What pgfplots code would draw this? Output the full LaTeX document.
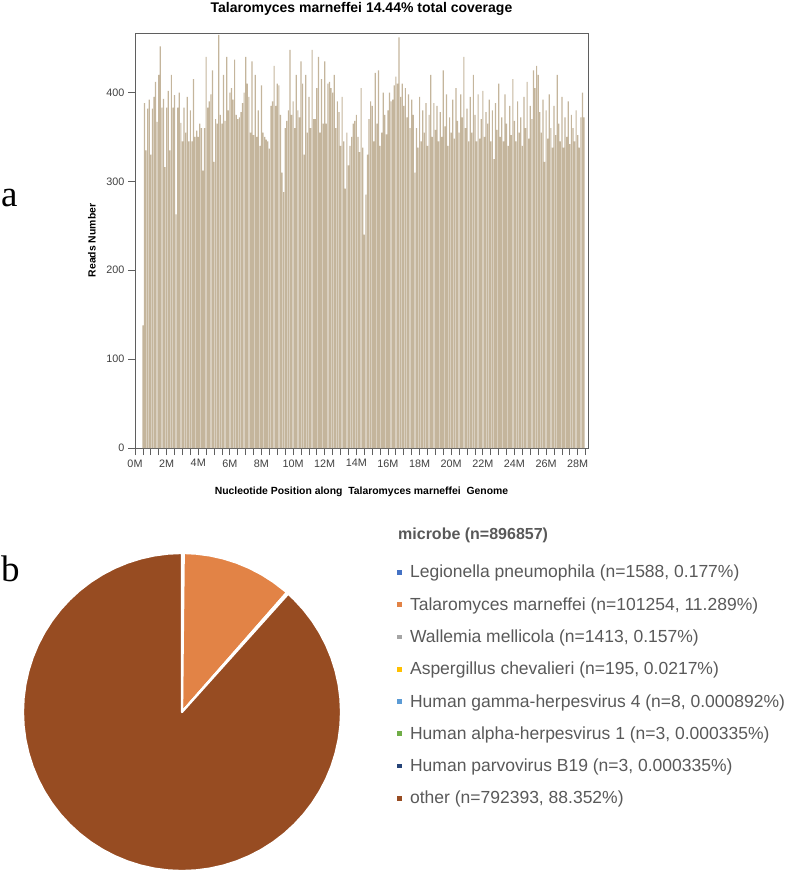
\documentclass[border=0pt]{standalone}
\usepackage{fontspec}
\setmainfont{Liberation Sans}
\newfontfamily\panelfont{Liberation Serif}
\usepackage{pgfplots}
\pgfplotsset{compat=1.18}

\definecolor{barTan}{RGB}{196,181,156}
\definecolor{axGray}{RGB}{95,95,95}
\definecolor{lgText}{RGB}{89,89,89}
\definecolor{cLeg}{RGB}{68,114,196}
\definecolor{cTal}{RGB}{226,131,70}
\definecolor{cWal}{RGB}{165,165,165}
\definecolor{cAsp}{RGB}{255,192,0}
\definecolor{cGam}{RGB}{91,155,213}
\definecolor{cAlp}{RGB}{112,173,71}
\definecolor{cPar}{RGB}{38,68,120}
\definecolor{cOth}{RGB}{151,76,34}

\begin{document}
\begin{tikzpicture}
\useasboundingbox (0,0) rectangle (787pt,-877pt);

% panel letters
\node[anchor=base west, inner sep=0pt, font=\panelfont\fontsize{37pt}{40pt}\selectfont] at (1pt,-207pt) {a};
\node[anchor=base west, inner sep=0pt, font=\panelfont\fontsize{37pt}{40pt}\selectfont] at (1pt,-581pt) {b};

% a: coverage along the genome, 0.1M bins
\begin{axis}[
  at={(135pt,-448pt)}, anchor=south west,
  scale only axis, width=453pt, height=415pt,
  xmin=0, xmax=28.65, ymin=0, ymax=467,
  ybar, bar width=0.075,
  axis line style={draw=axGray, line width=0.8pt},
  tick pos=left, tick align=outside,
  major tick length=7pt, minor tick length=7pt,
  every tick/.style={draw=axGray, line width=0.8pt},
  xtick={0,2,...,28},
  xticklabels={0M,2M,4M,6M,8M,10M,12M,14M,16M,18M,20M,22M,24M,26M,28M},
  minor xtick={0,0.5,...,28.5},
  ytick={0,100,200,300,400},
  /pgf/number format/assume math mode=true,
  tick label style={font=\fontsize{10.8pt}{12pt}\selectfont, color=black!75},
  xticklabel style={anchor=north, yshift=-1pt},
  title={Talaromyces marneffei 14.44\% total coverage},
  % the default title style already shifts by 6pt; shifts add up
  title style={font=\bfseries\fontsize{14pt}{16pt}\selectfont, at={(axis description cs:0.5,1)}, anchor=base, yshift=14.5pt},
  xlabel={Nucleotide Position along\ \ Talaromyces marneffei\ \ Genome},
  xlabel style={font=\bfseries\fontsize{10.4pt}{12pt}\selectfont, at={(axis description cs:0.5,-0.105)}, anchor=center},
  ylabel={Reads Number},
  ylabel style={font=\bfseries\fontsize{10.4pt}{12pt}\selectfont, at={(axis description cs:-0.095,0.5)}, anchor=center},
]
\addplot[fill=barTan, draw=none] coordinates {
(0.5,138)(0.6,388)(0.7,335)(0.8,382)(0.9,392)(1.0,330)(1.1,382)(1.2,395)(1.3,412)(1.4,367)
(1.5,420)(1.6,452)(1.7,383)(1.8,393)(1.9,316)(2.0,383)(2.1,402)(2.2,335)(2.3,420)(2.4,383)
(2.5,397)(2.6,263)(2.7,383)(2.8,400)(2.9,366)(3.0,345)(3.1,383)(3.2,355)(3.3,395)(3.4,345)
(3.5,380)(3.6,345)(3.7,415)(3.8,350)(3.9,357)(4.0,350)(4.1,365)(4.2,360)(4.3,312)(4.4,360)
(4.5,440)(4.6,383)(4.7,390)(4.8,398)(4.9,425)(5.0,322)(5.1,370)(5.2,365)(5.3,465)(5.4,375)
(5.5,365)(5.6,420)(5.7,368)(5.8,440)(5.9,380)(6.0,400)(6.1,405)(6.2,392)(6.3,437)(6.4,375)
(6.5,370)(6.6,372)(6.7,378)(6.8,388)(6.9,400)(7.0,440)(7.1,410)(7.2,395)(7.3,355)(7.4,435)
(7.5,352)(7.6,420)(7.7,350)(7.8,380)(7.9,340)(8.0,408)(8.1,355)(8.2,350)(8.3,347)(8.4,345)
(8.5,337)(8.6,385)(8.7,390)(8.8,430)(8.9,385)(9.0,410)(9.1,408)(9.2,375)(9.3,310)(9.4,288)
(9.5,360)(9.6,368)(9.7,380)(9.8,448)(9.9,375)(10.0,390)(10.1,360)(10.2,420)(10.3,380)(10.4,372)
(10.5,435)(10.6,410)(10.7,330)(10.8,420)(10.9,355)(11.0,395)(11.1,360)(11.2,448)(11.3,370)(11.4,370)
(11.5,405)(11.6,440)(11.7,355)(11.8,415)(11.9,365)(12.0,435)(12.1,365)(12.2,410)(12.3,412)(12.4,405)
(12.5,400)(12.6,420)(12.7,360)(12.8,390)(12.9,378)(13.0,340)(13.1,395)(13.2,345)(13.3,292)(13.4,355)
(13.5,318)(13.6,340)(13.7,350)(13.8,365)(13.9,368)(14.0,375)(14.1,350)(14.2,333)(14.3,405)(14.4,338)
(14.5,240)(14.6,285)(14.7,330)(14.8,370)(14.9,390)(15.0,385)(15.1,345)(15.2,422)(15.3,365)(15.4,425)
(15.5,340)(15.6,355)(15.7,400)(15.8,375)(15.9,353)(16.0,380)(16.1,400)(16.2,390)(16.3,392)(16.4,408)
(16.5,418)(16.6,410)(16.7,462)(16.8,395)(16.9,410)(17.0,385)(17.1,405)(17.2,372)(17.3,398)(17.4,360)
(17.5,392)(17.6,375)(17.7,310)(17.8,360)(17.9,338)(18.0,395)(18.1,345)(18.2,380)(18.3,355)(18.4,388)
(18.5,340)(18.6,375)(18.7,420)(18.8,350)(18.9,388)(19.0,358)(19.1,385)(19.2,345)(19.3,378)(19.4,350)
(19.5,425)(19.6,362)(19.7,398)(19.8,340)(19.9,372)(20.0,355)(20.1,392)(20.2,348)(20.3,405)(20.4,368)
(20.5,355)(20.6,398)(20.7,372)(20.8,440)(20.9,360)(21.0,382)(21.1,345)(21.2,395)(21.3,355)(21.4,420)
(21.5,375)(21.6,345)(21.7,398)(21.8,348)(21.9,370)(22.0,402)(22.1,350)(22.2,378)(22.3,365)(22.4,392)
(22.5,345)(22.6,380)(22.7,325)(22.8,388)(22.9,358)(23.0,410)(23.1,350)(23.2,372)(23.3,345)(23.4,398)
(23.5,365)(23.6,340)(23.7,385)(23.8,352)(23.9,415)(24.0,368)(24.1,345)(24.2,390)(24.3,355)(24.4,372)
(24.5,340)(24.6,395)(24.7,360)(24.8,412)(24.9,348)(25.0,385)(25.1,370)(25.2,425)(25.3,405)(25.4,430)
(25.5,420)(25.6,378)(25.7,355)(25.8,392)(25.9,322)(26.0,380)(26.1,348)(26.2,398)(26.3,360)(26.4,338)
(26.5,385)(26.6,352)(26.7,420)(26.8,365)(26.9,345)(27.0,395)(27.1,338)(27.2,372)(27.3,350)(27.4,390)
(27.5,342)(27.6,375)(27.7,360)(27.8,345)(27.9,380)(28.0,352)(28.1,338)(28.2,372)(28.3,400)(28.4,372)
};
\end{axis}

% b: microbe composition pie, (angle,radius) clockwise from 12 o'clock
% shares (%): 0.177, 11.289, 0.157, 0.0217, 0.000892, 0.000335, 0.000335, 88.352
\begin{axis}[
  at={(182pt,-712pt)}, anchor=center,
  scale only axis, width=318pt, height=318pt,
  xmin=-1, xmax=1, ymin=-1, ymax=1,
  hide axis, clip=false,
  legend style={at={(1.177,0.962)}, anchor=north west, draw=none, fill=none,
    inner sep=0pt, row sep=18.1pt, column sep=8pt,
    font=\fontsize{17.5pt}{20pt}\selectfont, text=lgText, nodes={inner sep=0pt}},
  legend cell align=left,
  legend image code/.code={\fill[#1,draw=none] (0pt,-2.3pt) rectangle (4.6pt,2.3pt);},
]
\addplot[forget plot, data cs=polar, fill=cLeg, draw=white, line width=2.2pt, line join=round]
  coordinates {(0,0) (90,1) (89.363,1)} -- cycle;
\addplot[forget plot, data cs=polar, fill=cTal, draw=white, line width=2.2pt, line join=round]
  coordinates {(0,0) (89.363,1) (85,1) (80,1) (75,1) (70,1) (65,1) (60,1) (55,1) (50,1) (48.722,1)} -- cycle;
\addplot[forget plot, data cs=polar, fill=cWal, draw=white, line width=2.2pt, line join=round]
  coordinates {(0,0) (48.722,1) (48.157,1)} -- cycle;
\addplot[forget plot, data cs=polar, fill=cAsp, draw=white, line width=2.2pt, line join=round]
  coordinates {(0,0) (48.157,1) (48.079,1)} -- cycle;
\addplot[forget plot, data cs=polar, fill=cOth, draw=white, line width=2.2pt, line join=round]
  coordinates {(0,0) (48.076,1) (45,1) (40,1) (35,1) (30,1) (25,1) (20,1) (15,1) (10,1) (5,1)
  (0,1) (-5,1) (-10,1) (-15,1) (-20,1) (-25,1) (-30,1) (-35,1) (-40,1) (-45,1) (-50,1) (-55,1)
  (-60,1) (-65,1) (-70,1) (-75,1) (-80,1) (-85,1) (-90,1) (-95,1) (-100,1) (-105,1) (-110,1)
  (-115,1) (-120,1) (-125,1) (-130,1) (-135,1) (-140,1) (-145,1) (-150,1) (-155,1) (-160,1)
  (-165,1) (-170,1) (-175,1) (-180,1) (-185,1) (-190,1) (-195,1) (-200,1) (-205,1) (-210,1)
  (-215,1) (-220,1) (-225,1) (-230,1) (-235,1) (-240,1) (-245,1) (-250,1) (-255,1) (-260,1)
  (-265,1) (-270,1)} -- cycle;
\addlegendimage{cLeg}\addlegendentry{Legionella pneumophila (n=1588, 0.177\%)}
\addlegendimage{cTal}\addlegendentry{Talaromyces marneffei (n=101254, 11.289\%)}
\addlegendimage{cWal}\addlegendentry{Wallemia mellicola (n=1413, 0.157\%)}
\addlegendimage{cAsp}\addlegendentry{Aspergillus chevalieri (n=195, 0.0217\%)}
\addlegendimage{cGam}\addlegendentry{Human gamma-herpesvirus 4 (n=8, 0.000892\%)}
\addlegendimage{cAlp}\addlegendentry{Human alpha-herpesvirus 1 (n=3, 0.000335\%)}
\addlegendimage{cPar}\addlegendentry{Human parvovirus B19 (n=3, 0.000335\%)}
\addlegendimage{cOth}\addlegendentry{other (n=792393, 88.352\%)}
\end{axis}

\node[anchor=west, inner sep=0pt, font=\bfseries\fontsize{16pt}{18pt}\selectfont, text=lgText]
  at (398pt,-535pt) {microbe (n=896857)};
\end{tikzpicture}
\end{document}
